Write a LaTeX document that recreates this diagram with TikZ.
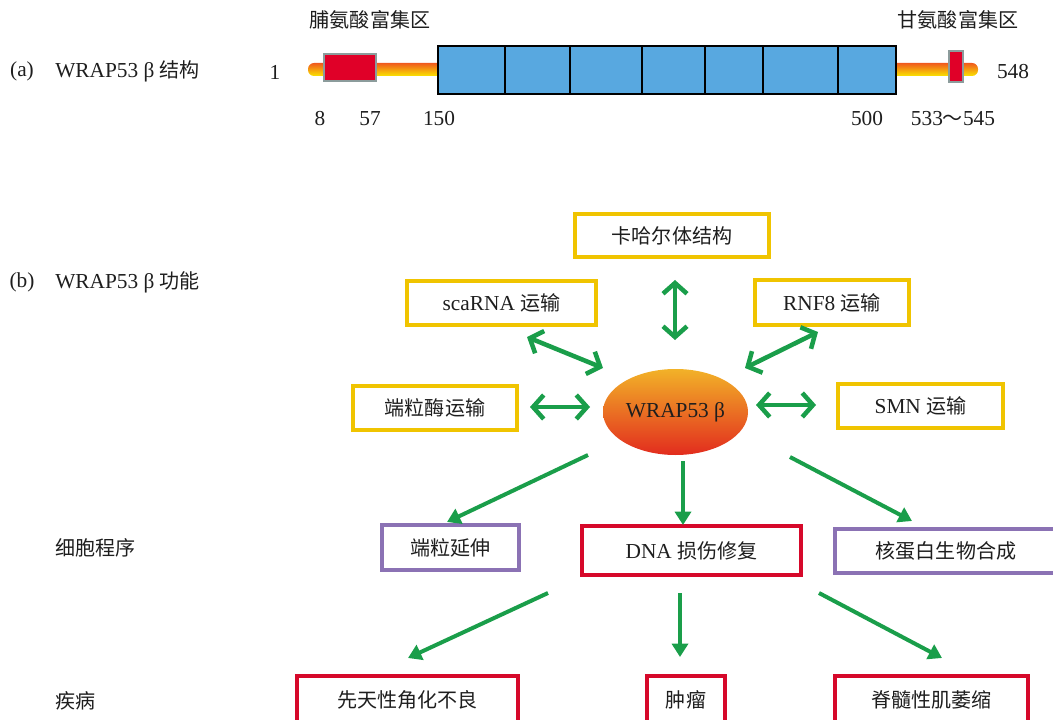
\documentclass[tikz,border=0pt]{standalone}
\usepackage{fontspec}
\setmainfont{Liberation Serif}
\newfontfamily\cjk[Scale=0.94]{Noto Sans CJK SC}
\usetikzlibrary{shapes.geometric,arrows.meta}
\definecolor{ygold}{RGB}{240,196,0}
\definecolor{rbox}{RGB}{214,8,42}
\definecolor{pbox}{RGB}{139,114,180}
\definecolor{agreen}{RGB}{26,158,74}
\definecolor{dblue}{RGB}{88,168,224}
\definecolor{dred}{RGB}{224,0,40}
\definecolor{dgray}{RGB}{140,156,156}
\definecolor{barTop}{RGB}{240,90,30}
\definecolor{barBot}{RGB}{250,228,0}
\definecolor{ellTop}{RGB}{242,178,40}
\definecolor{ellBot}{RGB}{226,44,30}
\definecolor{txt}{RGB}{30,30,30}
\tikzset{
  lbl/.style={inner sep=0pt},
  ybox/.style={draw=ygold, line width=3pt, inner sep=0pt},
  redframe/.style={draw=rbox, line width=3pt, inner sep=0pt},
  pframe/.style={draw=pbox, line width=3pt, inner sep=0pt},
  arr/.style={draw=agreen, line width=3pt, -{Triangle[length=10pt,width=12pt]}},
  darr/.style={draw=agreen, line width=3.4pt, {Straight Barb[length=8pt,width=18pt]}-{Straight Barb[length=8pt,width=18pt]}},
}
\begin{document}
\begin{tikzpicture}[x=0.75pt,y=-0.75pt, every node/.style={font=\fontsize{16}{19}\selectfont, text=txt}]
\useasboundingbox (0,0) rectangle (1053,720);
\clip (0,0) rectangle (1053,720);

% ---- (a) structure ----
\shade[top color=barTop, bottom color=barBot, rounded corners=4.5pt] (308,63) rectangle (978,76);
\node[draw=dgray, fill=dred, line width=1.5pt, minimum width=39pt, minimum height=20.25pt, inner sep=0pt] (pro) at (350,67.5) {};
\node[draw=dgray, fill=dred, line width=1.5pt, minimum width=10.5pt, minimum height=23.25pt, inner sep=0pt] (gly) at (955.5,66.5) {};
\draw[fill=dblue, line width=2pt] (438,46) rectangle (896,94);
\foreach \xx in {505,570,642,705,763,838} \draw[line width=2pt] (\xx,46) -- (\xx,94);

\node[lbl] (la) at (22,71) {(a)};
\node[lbl, anchor=west] (lat) at (55,71) {WRAP53 β {\cjk 结构}};
\node[lbl] (n1) at (275,72) {1};
\node[lbl] (n548) at (1013,72) {548};
\node[lbl] (n8) at (320,119) {8};
\node[lbl] (n57) at (370,119) {57};
\node[lbl] (n150) at (439,119) {150};
\node[lbl] (n500) at (867,119) {500};
\node[lbl] (n533) at (953,119) {533{\cjk ～}545};
\node[lbl] (prot) at (370,20) {\cjk 脯氨酸富集区};
\node[lbl] (glyt) at (958,20) {\cjk 甘氨酸富集区};

% ---- (b) function ----
\node[lbl] (lb) at (22,282) {(b)};
\node[lbl, anchor=west] (lbt) at (55,282) {WRAP53 β {\cjk 功能}};
\node[lbl, anchor=west] (cell) at (55,548) {\cjk 细胞程序};
\node[lbl, anchor=west] (dis) at (55,701) {\cjk 疾病};

\node[ellipse, top color=ellTop, bottom color=ellBot, minimum width=108.75pt, minimum height=64.5pt, inner sep=0pt] (wrap) at (675.5,412) {WRAP53 β};

\node[ybox, minimum width=145.5pt, minimum height=32.25pt] (kahal) at (672,235.5) {\cjk 卡哈尔体结构};
\node[ybox, minimum width=141.75pt, minimum height=33pt] (scarna) at (501.5,303) {scaRNA {\cjk 运输}};
\node[ybox, minimum width=115.5pt, minimum height=33.75pt] (rnf8) at (832,302.5) {RNF8 {\cjk 运输}};
\node[ybox, minimum width=123pt, minimum height=33pt] (telo) at (435,408) {\cjk 端粒酶运输};
\node[ybox, minimum width=123.75pt, minimum height=33pt] (smn) at (920.5,406) {SMN {\cjk 运输}};

\node[pframe, minimum width=102.75pt, minimum height=33.75pt] (ext) at (450.5,547.5) {\cjk 端粒延伸};
\node[redframe, minimum width=164.25pt, minimum height=36.75pt] (dna) at (691.5,550.5) {DNA {\cjk 损伤修复}};
\node[pframe, minimum width=166.5pt, minimum height=33pt] (nuc) at (946,551) {\cjk 核蛋白生物合成};

\node[redframe, minimum width=165.75pt, minimum height=36pt] (dkc) at (407.5,700) {\cjk 先天性角化不良};
\node[redframe, minimum width=58.5pt, minimum height=36pt] (tum) at (686,700) {\cjk 肿瘤};
\node[redframe, minimum width=144.75pt, minimum height=36pt] (sma) at (931.5,700) {\cjk 脊髓性肌萎缩};

% arrow end points
\coordinate (k1) at (675,280); \coordinate (k2) at (675,340);
\coordinate (s1) at (527,337); \coordinate (s2) at (603,368);
\coordinate (r1) at (818,332); \coordinate (r2) at (745,368);
\coordinate (t1) at (530,407); \coordinate (t2) at (590,407);
\coordinate (m1) at (756,405); \coordinate (m2) at (816,405);
\coordinate (e1) at (588,455); \coordinate (e2) at (447,522);
\coordinate (d1) at (683,461); \coordinate (d2) at (683,525);
\coordinate (c1) at (790,457); \coordinate (c2) at (912,521);
\coordinate (f1) at (548,593); \coordinate (f2) at (408,658);
\coordinate (g1) at (680,593); \coordinate (g2) at (680,657);
\coordinate (h1) at (819,593); \coordinate (h2) at (942,658);

\draw[darr] (k1) -- (k2);
\draw[darr] (s1) -- (s2);
\draw[darr] (r1) -- (r2);
\draw[darr] (t1) -- (t2);
\draw[darr] (m1) -- (m2);
\draw[arr] (e1) -- (e2);
\draw[arr] (d1) -- (d2);
\draw[arr] (c1) -- (c2);
\draw[arr] (f1) -- (f2);
\draw[arr] (g1) -- (g2);
\draw[arr] (h1) -- (h2);
\end{tikzpicture}
\end{document}
